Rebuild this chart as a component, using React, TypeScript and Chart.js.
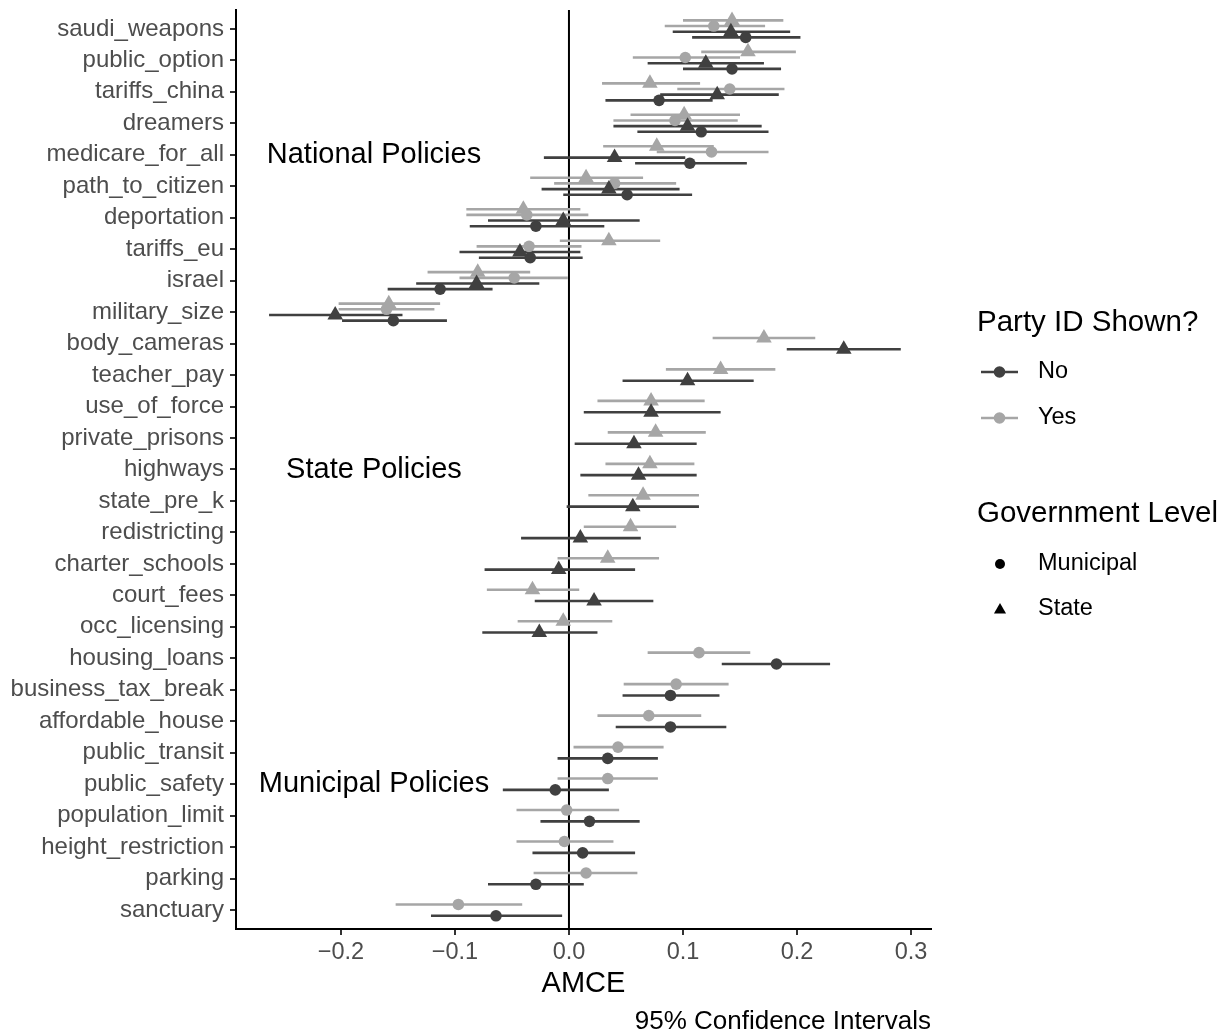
import React, { useEffect, useRef } from 'react';
import { Chart, registerables } from 'chart.js';

Chart.register(...registerables);

// ---------- data ----------
const policies = [
  'saudi_weapons', 'public_option', 'tariffs_china', 'dreamers', 'medicare_for_all',
  'path_to_citizen', 'deportation', 'tariffs_eu', 'israel', 'military_size',
  'body_cameras', 'teacher_pay', 'use_of_force', 'private_prisons', 'highways',
  'state_pre_k', 'redistricting', 'charter_schools', 'court_fees', 'occ_licensing',
  'housing_loans', 'business_tax_break', 'affordable_house', 'public_transit', 'public_safety',
  'population_limit', 'height_restriction', 'parking', 'sanctuary',
];

const N = null;

// Party ID shown = Yes, State level
const yesStateEst = [0.143, 0.157, 0.071, 0.101, 0.077, 0.015, -0.040, 0.035, -0.080, -0.158,
  0.171, 0.133, 0.072, 0.076, 0.071, 0.065, 0.054, 0.034, -0.032, -0.005, N, N, N, N, N, N, N, N, N];
const yesStateLo = [0.100, 0.116, 0.029, 0.054, 0.030, -0.034, -0.090, -0.008, -0.124, -0.202,
  0.126, 0.085, 0.025, 0.034, 0.032, 0.017, 0.013, -0.010, -0.072, -0.045, N, N, N, N, N, N, N, N, N];
const yesStateHi = [0.188, 0.199, 0.115, 0.150, 0.127, 0.065, 0.010, 0.080, -0.034, -0.113,
  0.216, 0.181, 0.119, 0.120, 0.110, 0.114, 0.094, 0.079, 0.009, 0.038, N, N, N, N, N, N, N, N, N];

// Party ID shown = Yes, Municipal level
const yesMunEst = [0.127, 0.102, 0.141, 0.093, 0.125, 0.040, -0.037, -0.035, -0.048, -0.160,
  N, N, N, N, N, N, N, N, N, N, 0.114, 0.094, 0.070, 0.043, 0.034, -0.002, -0.004, 0.015, -0.097];
const yesMunLo = [0.084, 0.056, 0.095, 0.039, 0.077, -0.013, -0.090, -0.081, -0.096, -0.202,
  N, N, N, N, N, N, N, N, N, N, 0.069, 0.048, 0.025, 0.004, -0.010, -0.046, -0.046, -0.031, -0.152];
const yesMunHi = [0.172, 0.150, 0.189, 0.148, 0.175, 0.094, 0.017, 0.011, -0.001, -0.118,
  N, N, N, N, N, N, N, N, N, N, 0.159, 0.140, 0.116, 0.083, 0.078, 0.044, 0.039, 0.060, -0.041];

// Party ID shown = No, State level
const noStateEst = [0.142, 0.120, 0.130, 0.104, 0.040, 0.035, -0.005, -0.043, -0.081, -0.205,
  0.241, 0.104, 0.072, 0.057, 0.061, 0.056, 0.010, -0.009, 0.022, -0.026, N, N, N, N, N, N, N, N, N];
const noStateLo = [0.091, 0.069, 0.080, 0.039, -0.022, -0.024, -0.071, -0.096, -0.134, -0.263,
  0.191, 0.047, 0.013, 0.005, 0.010, -0.002, -0.042, -0.074, -0.030, -0.076, N, N, N, N, N, N, N, N, N];
const noStateHi = [0.194, 0.171, 0.184, 0.169, 0.102, 0.097, 0.062, 0.010, -0.026, -0.146,
  0.291, 0.162, 0.133, 0.112, 0.112, 0.114, 0.063, 0.058, 0.074, 0.025, N, N, N, N, N, N, N, N, N];

// Party ID shown = No, Municipal level
const noMunEst = [0.155, 0.143, 0.079, 0.116, 0.106, 0.051, -0.029, -0.034, -0.113, -0.154,
  N, N, N, N, N, N, N, N, N, N, 0.182, 0.089, 0.089, 0.034, -0.012, 0.018, 0.012, -0.029, -0.064];
const noMunLo = [0.108, 0.100, 0.032, 0.060, 0.058, -0.005, -0.087, -0.079, -0.159, -0.199,
  N, N, N, N, N, N, N, N, N, N, 0.134, 0.047, 0.041, -0.010, -0.058, -0.025, -0.032, -0.071, -0.121];
const noMunHi = [0.203, 0.186, 0.126, 0.175, 0.156, 0.108, 0.031, 0.012, -0.067, -0.107,
  N, N, N, N, N, N, N, N, N, N, 0.229, 0.132, 0.138, 0.078, 0.035, 0.062, 0.058, 0.013, -0.006];

const xTicks = [-0.2, -0.1, 0.0, 0.1, 0.2, 0.3];

const annotationLabels = ['National Policies', 'State Policies', 'Municipal Policies'];
const annotationRows = ['medicare_for_all', 'highways', 'public_safety'];
const annotationX = -0.171;

const partyLevels = ['No', 'Yes'];
const govLevels = ['Municipal', 'State'];

// ---------- styling ----------
const DARK = '#404040';
const LIGHT = '#A6A6A6';
const FONT = '"Liberation Sans", Arial, Helvetica, sans-serif';

type Group = {
  party: string;
  level: string;
  est: (number | null)[];
  lo: (number | null)[];
  hi: (number | null)[];
};

const groups: Group[] = [
  { party: 'Yes', level: 'State', est: yesStateEst, lo: yesStateLo, hi: yesStateHi },
  { party: 'Yes', level: 'Municipal', est: yesMunEst, lo: yesMunLo, hi: yesMunHi },
  { party: 'No', level: 'State', est: noStateEst, lo: noStateLo, hi: noStateHi },
  { party: 'No', level: 'Municipal', est: noMunEst, lo: noMunLo, hi: noMunHi },
];

const DODGE = 0.72;
function dodge(row: number, gi: number): number {
  const present: number[] = [];
  groups.forEach((g, i) => { if (g.est[row] != null) present.push(i); });
  const n = present.length;
  const k = present.indexOf(gi);
  const w = DODGE / n;
  return (k - (n - 1) / 2) * w;
}

function colorOf(party: string) { return party === 'No' ? DARK : LIGHT; }

function drawTriangle(ctx: CanvasRenderingContext2D, x: number, y: number, r: number) {
  ctx.beginPath();
  ctx.moveTo(x, y - r);
  ctx.lineTo(x + r * Math.sin((2 * Math.PI) / 3), y - r * Math.cos((2 * Math.PI) / 3));
  ctx.lineTo(x + r * Math.sin((4 * Math.PI) / 3), y - r * Math.cos((4 * Math.PI) / 3));
  ctx.closePath();
  ctx.fill();
}

const textPlugin = {
  id: 'textPlugin',
  afterDraw(chart: any) {
    const ctx: CanvasRenderingContext2D = chart.ctx;
    const xs = chart.scales.x;
    const ys = chart.scales.y;
    const area = chart.chartArea;
    ctx.save();
    // annotations
    ctx.fillStyle = '#000';
    ctx.font = `29px ${FONT}`;
    ctx.textAlign = 'center';
    ctx.textBaseline = 'middle';
    annotationLabels.forEach((lab, i) => {
      const row = policies.indexOf(annotationRows[i]);
      ctx.fillText(lab, xs.getPixelForValue(annotationX), ys.getPixelForValue(row));
    });
    // x axis title
    ctx.font = `29px ${FONT}`;
    ctx.fillText('AMCE', (area.left + area.right) / 2, 984);
    // caption
    ctx.font = `26px ${FONT}`;
    ctx.textAlign = 'right';
    ctx.fillText('95% Confidence Intervals', area.right, 1022);

    // legend
    const lx = 977;
    ctx.textAlign = 'left';
    ctx.font = `29.5px ${FONT}`;
    ctx.fillText('Party ID Shown?', lx, 323);
    ctx.fillText('Government Level', lx, 514);
    ctx.font = `23.5px ${FONT}`;
    const partyY = [372, 418];
    partyLevels.forEach((p, i) => {
      const c = colorOf(p);
      ctx.strokeStyle = c;
      ctx.lineWidth = 2.6;
      ctx.beginPath();
      ctx.moveTo(981, partyY[i]);
      ctx.lineTo(1018, partyY[i]);
      ctx.stroke();
      ctx.fillStyle = c;
      ctx.beginPath();
      ctx.arc(999.5, partyY[i], 5.8, 0, Math.PI * 2);
      ctx.fill();
      ctx.fillStyle = '#000';
      ctx.fillText(p, 1038, partyY[i]);
    });
    const govY = [564, 609];
    govLevels.forEach((g, i) => {
      ctx.fillStyle = '#000';
      if (g === 'Municipal') {
        ctx.beginPath();
        ctx.arc(1000, govY[i], 5, 0, Math.PI * 2);
        ctx.fill();
      } else {
        drawTriangle(ctx, 1000, govY[i] + 1, 7);
      }
      ctx.fillText(g, 1038, govY[i]);
    });
    ctx.restore();
  },
};

const zeroLinePlugin = {
  id: 'zeroLine',
  beforeDatasetsDraw(chart: any) {
    const ctx: CanvasRenderingContext2D = chart.ctx;
    const xs = chart.scales.x;
    const area = chart.chartArea;
    const x0 = xs.getPixelForValue(0);
    ctx.save();
    ctx.strokeStyle = '#000';
    ctx.lineWidth = 2;
    ctx.beginPath();
    ctx.moveTo(x0, area.top);
    ctx.lineTo(x0, area.bottom);
    ctx.stroke();
    ctx.restore();
  },
};

export default function App() {
  const ref = useRef<HTMLCanvasElement | null>(null);

  useEffect(() => {
    document.body.style.margin = '0';
    document.body.style.overflow = 'hidden';
    if (!ref.current) return;

    const pointSets: any[] = [];
    const barSets: any[] = [];
    groups.forEach((g, gi) => {
      const color = colorOf(g.party);
      const pts: any[] = [];
      const segs: any[] = [];
      policies.forEach((_, row) => {
        const e = g.est[row];
        if (e == null) return;
        const y = row + dodge(row, gi);
        pts.push({ x: e, y });
        segs.push({ x: g.lo[row], y });
        segs.push({ x: g.hi[row], y });
        segs.push({ x: null, y: null });
      });
      const isTri = g.level === 'State';
      pointSets.push({
        type: 'scatter',
        label: `${g.party} ${g.level}`,
        data: pts,
        pointStyle: isTri ? 'triangle' : 'circle',
        pointRadius: isTri ? 9 : 5.8,
        pointBackgroundColor: color,
        pointBorderColor: color,
        pointBorderWidth: 0,
        showLine: false,
        order: g.party === 'No' ? 0 : 1,
      });
      barSets.push({
        type: 'scatter',
        label: `${g.party} ${g.level} CI`,
        data: segs,
        showLine: true,
        spanGaps: false,
        pointRadius: 0,
        borderColor: color,
        borderWidth: 2.6,
        order: g.party === 'No' ? 2 : 3,
      });
    });

    const chart = new Chart(ref.current, {
      type: 'scatter',
      data: { datasets: [...pointSets, ...barSets] },
      options: {
        animation: false,
        responsive: true,
        maintainAspectRatio: false,
        devicePixelRatio: 1,
        layout: { padding: { top: 10, right: 291, bottom: 0, left: 0 } },
        plugins: {
          legend: { display: false },
          tooltip: { enabled: false },
          title: { display: false },
        },
        scales: {
          x: {
            type: 'linear',
            min: -0.292,
            max: 0.3175,
            afterBuildTicks: (scale: any) => {
              scale.ticks = xTicks.map((v) => ({ value: v }));
            },
            afterFit: (scale: any) => {
              scale.height = 107;
              scale.paddingLeft = 0;
              scale.paddingRight = 0;
            },
            ticks: {
              color: '#4D4D4D',
              font: { family: FONT, size: 23.5 },
              padding: 3,
              maxRotation: 0,
              autoSkip: false,
              callback: (v: any) => {
                const n = Number(v);
                const s = Math.abs(n).toFixed(1);
                return n < -1e-9 ? '\u2212' + s : s;
              },
            },
            grid: {
              display: true,
              drawOnChartArea: false,
              drawTicks: true,
              tickLength: 6,
              color: '#333333',
              lineWidth: 2,
            },
            border: { display: true, color: '#000', width: 2 },
          },
          y: {
            type: 'linear',
            reverse: true,
            min: -0.6,
            max: policies.length - 1 + 0.6,
            afterBuildTicks: (scale: any) => {
              scale.ticks = policies.map((_, i) => ({ value: i }));
            },
            afterFit: (scale: any) => {
              scale.width = 236;
              scale.paddingTop = 0;
              scale.paddingBottom = 0;
            },
            ticks: {
              color: '#4D4D4D',
              font: { family: FONT, size: 24 },
              padding: 6,
              autoSkip: false,
              callback: (v: any) => policies[Math.round(Number(v))] ?? '',
            },
            grid: {
              display: true,
              drawOnChartArea: false,
              drawTicks: true,
              tickLength: 6,
              color: '#333333',
              lineWidth: 2,
            },
            border: { display: true, color: '#000', width: 2 },
          },
        },
      },
      plugins: [zeroLinePlugin, textPlugin],
    } as any);

    return () => chart.destroy();
  }, []);

  return (
    <div style={{ position: 'relative', width: '1222px', height: '1036px', overflow: 'hidden' }}>
      <canvas ref={ref} />
    </div>
  );
}
